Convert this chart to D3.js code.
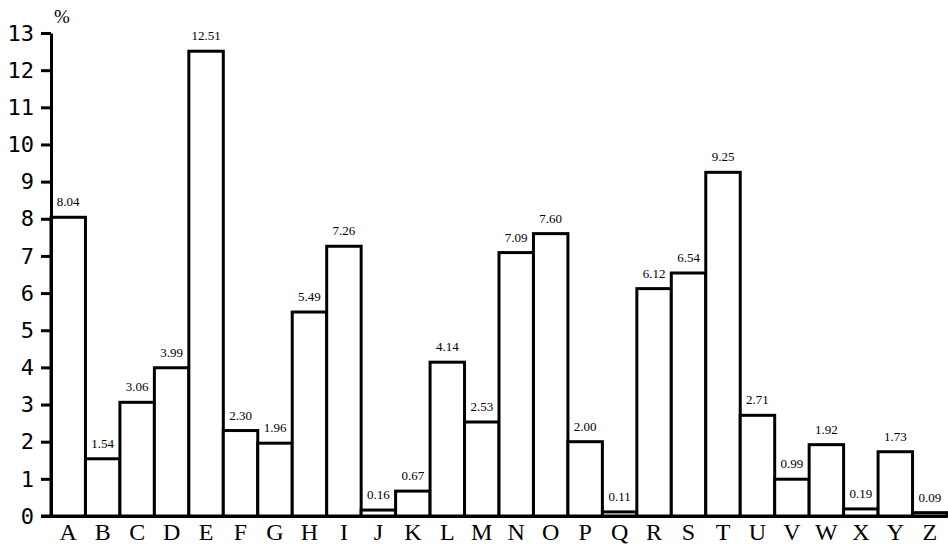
<!DOCTYPE html>
<html>
<head>
<meta charset="utf-8">
<script src="https://cdn.jsdelivr.net/npm/d3@7"></script>
</head>
<body style="margin:0">
<div id="chart"></div>
<script>
const letters = ["A","B","C","D","E","F","G","H","I","J","K","L","M","N","O","P","Q","R","S","T","U","V","W","X","Y","Z"];
const percents = [8.04,1.54,3.06,3.99,12.51,2.30,1.96,5.49,7.26,0.16,0.67,4.14,2.53,7.09,7.60,2.00,0.11,6.12,6.54,9.25,2.71,0.99,1.92,0.19,1.73,0.09];
const yTicks = d3.range(0, 14);

const width = 948, height = 545;
const margin = { top: 33, right: 1, bottom: 29, left: 51 };

const svg = d3.select("#chart").append("svg")
  .attr("width", width)
  .attr("height", height);

const x = d3.scaleBand().domain(letters).range([margin.left, width - margin.right]).padding(0);
const y = d3.scaleLinear().domain([0, 13]).range([height - margin.bottom, margin.top]);

// bars
svg.append("g").selectAll("rect")
  .data(letters)
  .join("rect")
  .attr("x", d => x(d))
  .attr("y", (d, i) => y(percents[i]))
  .attr("width", x.bandwidth())
  .attr("height", (d, i) => y(0) - y(percents[i]))
  .attr("fill", "#fff")
  .attr("stroke", "#000")
  .attr("stroke-width", 3);

// y axis lines (labels drawn separately)
const yAxis = svg.append("g")
  .attr("transform", `translate(${margin.left},0)`)
  .call(d3.axisLeft(y).tickValues(yTicks).tickSize(10).tickFormat("").tickSizeOuter(0));
yAxis.select(".domain").attr("stroke-width", 3);
yAxis.selectAll(".tick line").attr("stroke-width", 3);

// x axis line
const xAxis = svg.append("g")
  .attr("transform", `translate(0,${y(0)})`)
  .call(d3.axisBottom(x).tickSize(0).tickFormat(""));
xAxis.select(".domain").attr("stroke-width", 3);
svg.append("line")
  .attr("x1", margin.left - 10).attr("x2", margin.left)
  .attr("y1", y(0)).attr("y2", y(0))
  .attr("stroke", "#000").attr("stroke-width", 3);

// value labels
svg.selectAll("text.val")
  .data(letters)
  .join("text")
  .attr("class", "val")
  .attr("x", d => x(d) + x.bandwidth() / 2)
  .attr("y", (d, i) => y(percents[i]) - 11)
  .attr("text-anchor", "middle")
  .style("font-family", "Liberation Serif")
  .style("font-size", "13px")
  .text((d, i) => percents[i].toFixed(2));

// y tick labels
svg.selectAll("text.ytick")
  .data(yTicks)
  .join("text")
  .attr("class", "ytick")
  .attr("x", margin.left - 17)
  .attr("y", d => y(d))
  .attr("dy", "0.35em")
  .attr("text-anchor", "end")
  .style("font-family", "DejaVu Sans Mono")
  .style("font-size", "22px")
  .text(d => d);

// x tick labels
svg.selectAll("text.xtick")
  .data(letters)
  .join("text")
  .attr("class", "xtick")
  .attr("x", d => x(d) + x.bandwidth() / 2)
  .attr("y", height - 5)
  .attr("text-anchor", "middle")
  .style("font-family", "Liberation Serif")
  .style("font-size", "24px")
  .text(d => d);

svg.append("text")
  .attr("x", 54)
  .attr("y", 23)
  .style("font-family", "Liberation Serif")
  .style("font-size", "19px")
  .text("%");
</script>
</body>
</html>
